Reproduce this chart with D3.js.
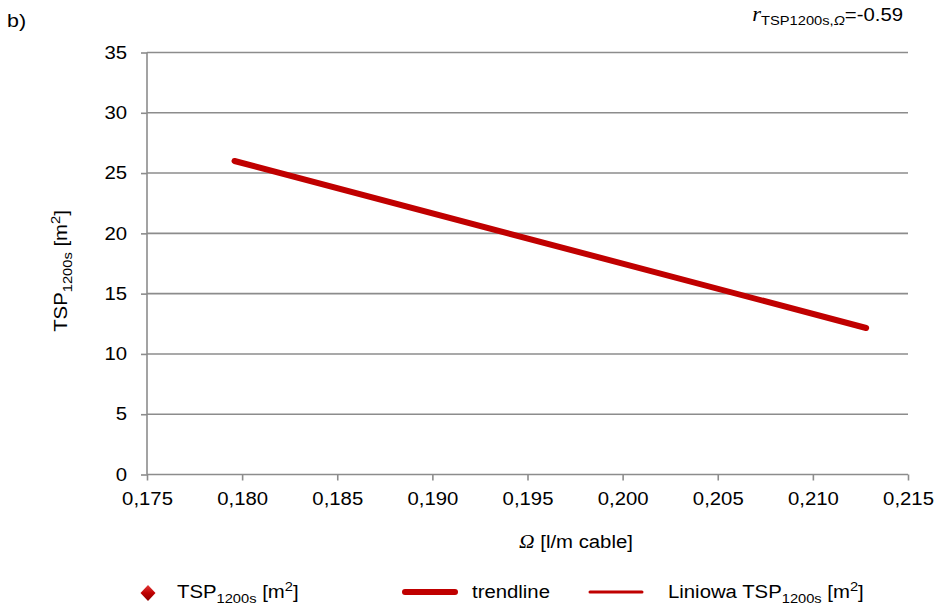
<!DOCTYPE html>
<html><head><meta charset="utf-8">
<script src="https://cdn.jsdelivr.net/npm/d3@7"></script>
<style>body{margin:0;background:#fff}svg{display:block;font-family:"Liberation Sans",Arial,sans-serif}</style>
</head><body><svg id="c" width="942" height="607"></svg>
<script>
const xTicks = [0.175,0.180,0.185,0.190,0.195,0.200,0.205,0.210,0.215];
const yTicks = [0,5,10,15,20,25,30,35];
const trendX = [0.1796, 0.2128];
const trendY = [26.0, 12.15];
const corrLabel = "-0.59";

const SX = 1.13;
const FS = 18;
const svg = d3.select("#c");
const x = d3.scaleLinear().domain([0.175,0.215]).range([147,908]);
const y = d3.scaleLinear().domain([0,35]).range([474.5,52.5]);
const grid = "#8c8c8c";
const red = "#C00000";

function stretch(t){
  t.each(function(){
    const e = d3.select(this);
    const tx = +e.attr("x")||0, ty = +e.attr("y")||0;
    e.attr("x",0).attr("y",0).attr("transform",`translate(${tx},${ty}) scale(${SX},1)`);
  });
  return t;
}

// gridlines
svg.append("g").selectAll("line").data(yTicks.filter(d=>d>0)).join("line")
  .attr("x1",x(0.175)).attr("x2",x(0.215)).attr("y1",d=>y(d)).attr("y2",d=>y(d))
  .attr("stroke",grid).attr("stroke-width",1.6);

// axes
const yAxis = svg.append("g").attr("transform",`translate(${x(0.175)},0)`)
  .call(d3.axisLeft(y).tickValues(yTicks).tickSize(6).tickPadding(14).tickFormat(d3.format("d")));
const xAxis = svg.append("g").attr("transform",`translate(0,${y(0)})`)
  .call(d3.axisBottom(x).tickValues(xTicks).tickSize(6).tickPadding(12).tickFormat(d=>d3.format(".3f")(d).replace(".",",")));
[yAxis,xAxis].forEach(a=>{
  a.selectAll("path,line").attr("stroke",grid).attr("stroke-width",1.6);
  a.selectAll("text").attr("font-size",FS).attr("fill","#000").attr("font-family","Liberation Sans, Arial, sans-serif");
  stretch(a.selectAll("text"));
});
xAxis.select("path").attr("d",`M${x(0.175)},0H${x(0.215)}`);
yAxis.select("path").attr("d",`M0,${y(0)}V${y(35)}`);

// trendline
const pts = trendX.map((d,i)=>[x(d),y(trendY[i])]);
svg.append("path").attr("d",d3.line()(pts)).attr("stroke",red).attr("stroke-width",6)
  .attr("stroke-linecap","round").attr("fill","none");

// labels
stretch(svg.append("text").attr("x",7).attr("y",27).attr("font-size",FS+1).text("b)"));
const r = svg.append("text").attr("x",903).attr("y",21).attr("text-anchor","end").attr("font-size",FS);
r.append("tspan").attr("font-style","italic").attr("font-family","Liberation Serif, Times New Roman, serif").attr("font-size",20).text("r");
r.append("tspan").attr("font-size",13).attr("dy",4).text("TSP1200s,");
r.append("tspan").attr("font-size",13).attr("font-style","italic").text("Ω");
r.append("tspan").attr("dy",-4).text("=" + corrLabel);
stretch(r);

// y title
const yt = svg.append("text").attr("transform",`translate(67,271) rotate(-90) scale(${SX},1)`).attr("text-anchor","middle").attr("font-size",FS);
yt.append("tspan").text("TSP");
yt.append("tspan").attr("font-size",13).attr("dy",5).text("1200s");
yt.append("tspan").attr("dy",-5).text(" [m");
yt.append("tspan").attr("font-size",13).attr("dy",-7).text("2");
yt.append("tspan").attr("dy",7).text("]");

// x title
const xt = svg.append("text").attr("x",576).attr("y",548).attr("text-anchor","middle").attr("font-size",FS);
xt.append("tspan").attr("font-style","italic").attr("font-family","Liberation Serif, Times New Roman, serif").attr("font-size",19).text("Ω");
xt.append("tspan").text(" [l/m cable]");
stretch(xt);

// legend
const ly = 592;
const defs = svg.append("defs");
const g = defs.append("linearGradient").attr("id","dg").attr("x1",0).attr("y1",0).attr("x2",0).attr("y2",1);
g.append("stop").attr("offset","0%").attr("stop-color","#e23a3a");
g.append("stop").attr("offset","50%").attr("stop-color","#c00000");
g.append("stop").attr("offset","100%").attr("stop-color","#8a0000");
svg.append("path").attr("d","M0,-8L7.5,0L0,8L-7.5,0Z").attr("transform",`translate(148,${ly+1})`)
  .attr("fill","url(#dg)");
function legText(x0, pre){
  const t = svg.append("text").attr("x",x0).attr("y",ly+6).attr("font-size",FS);
  t.append("tspan").text(pre+"TSP");
  t.append("tspan").attr("font-size",13).attr("dy",5).text("1200s");
  t.append("tspan").attr("dy",-5).text(" [m");
  t.append("tspan").attr("font-size",13).attr("dy",-7).text("2");
  t.append("tspan").attr("dy",7).text("]");
  stretch(t);
}
legText(177,"");
svg.append("line").attr("x1",405).attr("x2",455).attr("y1",ly).attr("y2",ly).attr("stroke",red).attr("stroke-width",6).attr("stroke-linecap","round");
stretch(svg.append("text").attr("x",472).attr("y",ly+6).attr("font-size",FS).text("trendline"));
svg.append("line").attr("x1",590).attr("x2",642).attr("y1",ly).attr("y2",ly).attr("stroke",red).attr("stroke-width",3).attr("stroke-linecap","round");
legText(668,"Liniowa ");
</script></body></html>
